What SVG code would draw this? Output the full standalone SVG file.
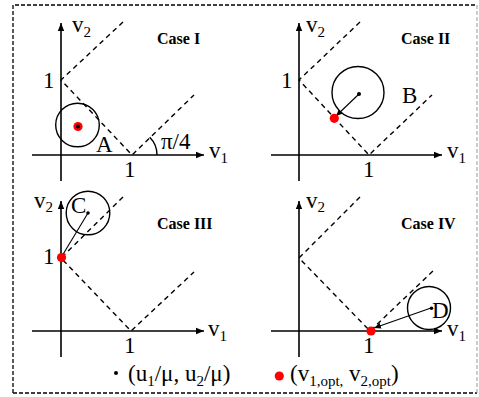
<svg xmlns="http://www.w3.org/2000/svg" width="479" height="397" viewBox="0 0 479 397">
<style>
.bg{fill:#fff}
.border{fill:none;stroke:#000;stroke-width:1.3;stroke-dasharray:4,2}
.borderR{fill:none;stroke:#999;stroke-width:1;stroke-dasharray:4,2}
.axis{fill:none;stroke:#000;stroke-width:1.6}
.dash{fill:none;stroke:#000;stroke-width:1.4;stroke-dasharray:5,4}
.circ{fill:none;stroke:#000;stroke-width:1.4}
.link{fill:none;stroke:#000;stroke-width:1.1}
.red{fill:#ff0000}
.blk{fill:#000}
text{font-family:"Liberation Serif","Times New Roman",serif;fill:#000}
.lbl{font-size:23px}
.sub{font-size:15px}
.case{font-size:16px;font-weight:bold}
</style>
<defs>
<marker id="ax" markerUnits="userSpaceOnUse" markerWidth="10" markerHeight="8" refX="8" refY="4" orient="auto">
<path d="M0,0.8 L8,4 L0,7.2 Z" fill="#000"/>
</marker>
<marker id="ar" markerUnits="userSpaceOnUse" markerWidth="9" markerHeight="7" refX="7" refY="3.5" orient="auto">
<path d="M0,0.5 L7,3.5 L0,6.5 Z" fill="#000"/>
</marker>
</defs>
<rect class="bg" x="0" y="0" width="479" height="397"/>
<g id="frame">
<path class="border" d="M13,393 L13,5 L477,5"/>
<path class="border" d="M13,393 L477,393"/>
<path class="borderR" d="M477,5 L477,393"/>
</g>

<g id="connectors">
<!-- Case I -->
<line class="axis" x1="61" y1="181" x2="61" y2="23" marker-end="url(#ax)"/>
<line class="axis" x1="32" y1="155" x2="204" y2="155" marker-end="url(#ax)"/>
<path class="dash" d="M123,22 L61,80 L132,155 L194,95"/>
<path class="axis" d="M157,155 A25,25 0 0 0 149.7,137.3" style="stroke-width:1.4"/>
<!-- Case II -->
<line class="axis" x1="299" y1="181" x2="299" y2="23" marker-end="url(#ax)"/>
<line class="axis" x1="271" y1="155" x2="442" y2="155" marker-end="url(#ax)"/>
<path class="dash" d="M360,22 L299,80 L369,155 L432,95"/>
<line class="link" x1="359" y1="94" x2="336" y2="116" marker-end="url(#ar)"/>
<!-- Case III -->
<line class="axis" x1="61" y1="357" x2="61" y2="201" marker-end="url(#ax)"/>
<line class="axis" x1="32" y1="331" x2="204" y2="331" marker-end="url(#ax)"/>
<path class="dash" d="M123,197 L61,258 L131,331 L194,272"/>
<line class="link" x1="88" y1="213" x2="62" y2="256"/>
<!-- Case IV -->
<line class="axis" x1="299" y1="357" x2="299" y2="201" marker-end="url(#ax)"/>
<line class="axis" x1="271" y1="331" x2="442" y2="331" marker-end="url(#ax)"/>
<path class="dash" d="M360,197 L299,258 L370,331 L433,271"/>
<line class="link" x1="431" y1="308" x2="374" y2="328" marker-end="url(#ar)"/>
</g>

<g id="case1">
<text class="lbl" x="72" y="32">v<tspan class="sub" dy="5">2</tspan></text>
<text class="case" x="157" y="44">Case I</text>
<text class="lbl" x="43" y="88">1</text>
<circle class="circ" cx="77.5" cy="125" r="21.8"/>
<circle class="red" cx="78" cy="126.5" r="4.6"/>
<circle class="blk" cx="78" cy="126.5" r="2"/>
<text class="lbl" x="96" y="152">A</text>
<text class="lbl" x="161" y="149">π/4</text>
<text class="lbl" x="124" y="177">1</text>
<text class="lbl" x="209" y="158">v<tspan class="sub" dy="5">1</tspan></text>
</g>

<g id="case2">
<text class="lbl" x="306" y="32">v<tspan class="sub" dy="5">2</tspan></text>
<text class="case" x="401" y="44">Case II</text>
<text class="lbl" x="281" y="88">1</text>
<circle class="circ" cx="358" cy="92.5" r="26"/>
<circle class="blk" cx="359" cy="94" r="2"/>
<circle class="red" cx="334.3" cy="118.3" r="4.6"/>
<text class="lbl" x="402" y="103">B</text>
<text class="lbl" x="363" y="177">1</text>
<text class="lbl" x="447" y="158">v<tspan class="sub" dy="5">1</tspan></text>
</g>

<g id="case3">
<text class="lbl" x="34" y="208">v<tspan class="sub" dy="4">2</tspan></text>
<text class="case" x="157" y="229">Case III</text>
<circle class="circ" cx="88" cy="213" r="21.8"/>
<circle class="blk" cx="88" cy="213" r="1.8"/>
<text class="lbl" x="71" y="213">C</text>
<text class="lbl" x="43" y="264">1</text>
<circle class="red" cx="61.5" cy="257.5" r="4.6"/>
<text class="lbl" x="124" y="353">1</text>
<text class="lbl" x="208" y="336">v<tspan class="sub" dy="5">1</tspan></text>
</g>

<g id="case4">
<text class="lbl" x="306" y="208">v<tspan class="sub" dy="4">2</tspan></text>
<text class="case" x="401" y="229">Case IV</text>
<circle class="circ" cx="429" cy="308" r="21.5"/>
<circle class="blk" cx="431.5" cy="308.3" r="1.8"/>
<text class="lbl" x="432" y="318">D</text>
<circle class="red" cx="371" cy="331" r="4.6"/>
<text class="lbl" x="363" y="353">1</text>
<text class="lbl" x="447" y="336">v<tspan class="sub" dy="5">1</tspan></text>
</g>

<g id="legend">
<circle class="blk" cx="116" cy="373" r="2"/>
<text class="lbl" x="128" y="381">(u<tspan class="sub" dy="5">1</tspan><tspan dy="-5">/μ, u</tspan><tspan class="sub" dy="5">2</tspan><tspan dy="-5">/μ)</tspan></text>
<circle class="red" cx="279.3" cy="376" r="4.6"/>
<text class="lbl" x="290" y="381">(v<tspan class="sub" dy="5">1,opt,</tspan><tspan dy="-5"> v</tspan><tspan class="sub" dy="5">2,opt</tspan><tspan dy="-5">)</tspan></text>
</g>
</svg>
